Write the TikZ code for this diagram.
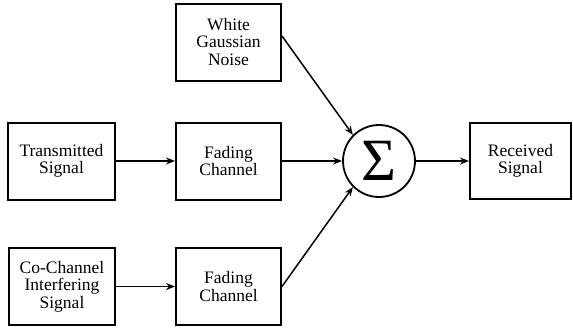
\documentclass[tikz,border=0pt]{standalone}
\usepackage{fontspec}
\setmainfont{Liberation Serif}
\usetikzlibrary{arrows.meta}

\begin{document}
\begin{tikzpicture}[x=1pt,y=-1pt,font=\fontsize{17.5}{17.5}\selectfont,
  blk/.style={draw,line width=2pt,minimum width=105pt,minimum height=77pt,align=center,inner sep=2pt},
  sumop/.style={draw,circle,line width=1.8pt,minimum size=72pt,inner sep=0pt,font=\fontsize{60}{60}\selectfont},
  link/.style={-{Stealth[length=9pt,width=7pt]},line width=1.5pt}]
\useasboundingbox (0,0) rectangle (573,327);
% sources and channels
\node[blk] (noise) at (228.5,42) {White\\Gaussian\\Noise};
\node[blk,minimum width=107pt] (tx) at (61.5,161) {Transmitted\\Signal};
\node[blk] (fade1) at (228.5,161) {Fading\\Channel};
\node[blk,minimum width=106pt] (cci) at (62,286.5) {Co-Channel\\Interfering\\Signal};
\node[blk] (fade2) at (228.5,286.5) {Fading\\Channel};
% adder and output
\node[sumop] (sum) at (379,161) {Σ};
\node[blk,minimum width=101pt,minimum height=76pt] (rx) at (520.5,161) {Received\\Signal};
\draw[link] (tx.east) -- (fade1.west);
\draw[link] (cci.east) -- (fade2.west);
\draw[link] ([yshift=6pt]noise.east) -- (sum.135);
\draw[link] (fade1.east) -- (sum.west);
\draw[link] (fade2.east) -- (sum.225);
\draw[link] (sum.east) -- (rx.west);
\end{tikzpicture}
\end{document}
